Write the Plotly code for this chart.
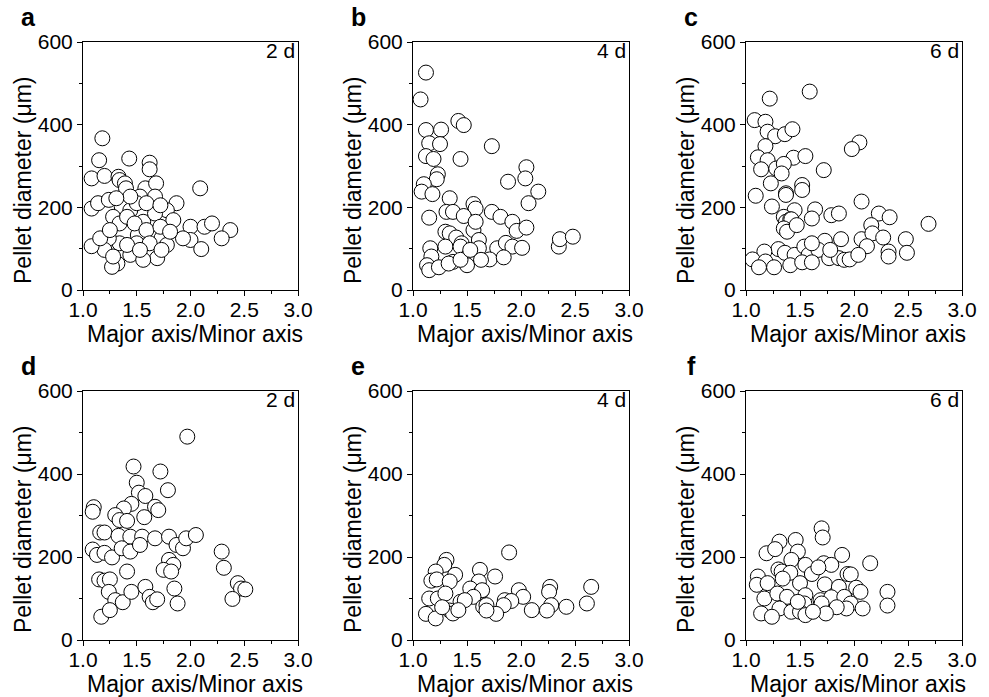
import plotly.graph_objects as go

# ---------------- data ----------------
a_ratio = [1.18, 1.15, 1.43, 1.62, 1.62, 1.08, 1.20, 1.33, 1.34, 1.39, 1.40, 1.58, 1.68, 1.67, 1.53,
           2.09, 1.87, 1.78, 1.08, 1.14, 1.24, 1.36, 1.28, 1.44, 1.56, 1.67, 1.84, 2.00, 2.13, 2.20,
           2.37, 2.29, 2.00, 1.93, 2.10, 1.73, 1.78, 1.51, 1.34, 1.24, 1.20, 1.08, 1.16, 1.44, 1.61,
           1.69, 1.56, 1.32, 1.27, 1.34, 1.41, 1.48, 1.59, 1.72, 1.25, 1.50, 1.62, 1.41, 1.28, 1.53,
           1.81, 1.73, 1.50, 1.59, 1.72, 1.44, 1.31]
a_diam = [367, 314, 318, 308, 292, 270, 276, 274, 266, 258, 246, 246, 258, 226, 226,
          246, 210, 193, 197, 210, 218, 202, 177, 193, 165, 185, 169, 153, 153, 161,
          145, 125, 121, 125, 99, 125, 109, 133, 113, 125, 97, 106, 125, 85, 93,
          77, 73, 64, 56, 161, 177, 161, 145, 153, 145, 113, 113, 109, 81, 97,
          141, 97, 210, 210, 205, 226, 222]

b_ratio = [1.12, 1.07, 1.42, 1.47, 1.12, 1.26, 1.15, 1.25, 1.73, 1.12, 1.19, 1.44, 2.05, 2.04, 1.88,
           1.23, 1.22, 1.10, 1.08, 1.18, 2.16, 2.07, 1.34, 1.56, 1.58, 1.31, 1.37, 1.47, 1.73, 1.81,
           1.92, 1.96, 2.05, 1.15, 1.30, 1.34, 1.40, 1.56, 1.58, 1.45, 1.61, 1.61, 1.16, 1.30, 1.44,
           1.78, 1.86, 1.92, 2.01, 1.17, 1.51, 1.37, 1.50, 1.71, 1.63, 1.84, 1.13, 1.15, 1.24, 1.33,
           1.44, 2.35, 2.36, 2.48, 1.53]
b_diam = [526, 461, 409, 399, 387, 388, 355, 353, 348, 324, 317, 317, 297, 270, 262,
          280, 268, 256, 238, 232, 238, 210, 222, 208, 197, 189, 189, 179, 189, 177,
          165, 143, 151, 175, 141, 137, 127, 145, 165, 113, 121, 101, 101, 105, 105,
          101, 114, 105, 102, 81, 82, 68, 60, 74, 73, 79, 60, 48, 55, 64,
          73, 105, 123, 129, 97]

c_ratio = [1.22, 1.59, 1.08, 1.18, 1.20, 1.27, 1.36, 1.43, 1.18, 2.05, 1.98, 1.11, 1.20, 1.44, 1.55,
           1.14, 1.28, 1.35, 1.33, 1.72, 1.23, 1.52, 1.52, 1.37, 1.37, 1.09, 1.24, 1.45, 1.64, 1.61,
           1.79, 1.86, 2.07, 2.23, 2.33, 2.16, 2.69, 1.35, 1.37, 1.41, 1.42, 1.35, 1.38, 1.47, 1.73,
           1.88, 2.07, 2.17, 2.27, 2.48, 2.12, 2.32, 2.49, 2.32, 1.30, 1.36, 1.45, 1.54, 1.58, 1.67,
           1.17, 1.06, 1.18, 1.12, 1.26, 1.41, 1.52, 1.61, 1.77, 1.86, 1.91, 1.96, 2.04, 1.78, 1.61]
c_diam = [463, 480, 411, 407, 383, 372, 377, 389, 348, 357, 341, 321, 314, 320, 324,
          292, 294, 305, 282, 290, 258, 254, 242, 234, 230, 228, 202, 193, 195, 173,
          181, 185, 214, 185, 176, 157, 160, 177, 165, 171, 171, 149, 141, 157, 119,
          123, 123, 137, 127, 123, 106, 93, 90, 81, 99, 90, 85, 105, 85, 97,
          93, 74, 69, 55, 55, 60, 67, 67, 77, 77, 73, 74, 85, 97, 113]

d_ratio = [1.97, 1.47, 1.72, 1.50, 1.52, 1.58, 1.79, 1.10, 1.09, 1.45, 1.38, 1.67, 1.70, 1.30, 1.34,
           1.41, 1.57, 1.16, 1.20, 1.33, 1.44, 1.55, 1.67, 1.80, 1.87, 1.93, 1.96, 2.05, 1.09, 1.13,
           1.20, 1.27, 1.36, 1.44, 1.53, 1.80, 1.84, 1.75, 1.82, 2.29, 2.31, 1.41, 1.15, 1.20, 1.25,
           1.24, 1.30, 1.37, 1.45, 1.58, 1.62, 1.65, 1.69, 1.85, 1.88, 2.44, 2.47, 2.51, 2.39, 1.17,
           1.25]
d_diam = [490, 418, 406, 379, 355, 347, 361, 320, 309, 328, 317, 321, 313, 301, 289,
          287, 296, 259, 259, 251, 249, 249, 245, 249, 229, 221, 245, 253, 218, 205,
          210, 199, 221, 213, 229, 193, 181, 169, 165, 213, 174, 165, 146, 143, 146,
          116, 96, 91, 116, 128, 104, 91, 98, 124, 88, 137, 124, 122, 99, 56,
          72]

e_ratio = [1.89, 1.31, 1.29, 1.21, 1.39, 1.62, 1.61, 1.76, 1.17, 1.22, 1.34, 1.53, 1.63, 1.64, 1.98,
           2.02, 2.27, 2.26, 2.65, 1.15, 1.23, 1.30, 1.44, 1.56, 1.65, 1.68, 1.85, 1.91, 1.84, 2.28,
           2.42, 2.61, 2.24, 2.10, 1.77, 1.68, 1.12, 1.21, 1.34, 1.37, 1.27, 1.48, 1.42]
e_diam = [211, 193, 181, 165, 157, 169, 141, 153, 143, 146, 141, 124, 116, 120, 120,
          104, 128, 116, 128, 100, 100, 112, 92, 104, 80, 84, 96, 94, 84, 84,
          80, 88, 71, 72, 63, 71, 63, 52, 71, 64, 79, 96, 72]

f_ratio = [1.70, 1.71, 1.31, 1.46, 1.19, 1.27, 1.48, 1.89, 2.15, 1.42, 1.55, 1.72, 1.79, 1.30, 1.33,
           1.41, 1.61, 1.67, 1.94, 1.97, 1.11, 1.34, 1.10, 1.20, 1.50, 1.73, 1.86, 2.02, 2.06, 2.31,
           2.31, 1.17, 1.29, 1.38, 1.55, 1.54, 1.69, 1.79, 1.91, 1.97, 1.93, 2.08, 1.84, 1.70, 1.31,
           1.14, 1.24, 1.42, 1.50, 1.55, 1.74, 1.48, 1.62]
f_diam = [269, 247, 237, 241, 209, 219, 213, 205, 185, 193, 181, 185, 181, 170, 165,
          162, 159, 175, 159, 158, 153, 148, 133, 137, 137, 134, 128, 126, 116, 116,
          83, 100, 112, 104, 108, 88, 96, 103, 104, 88, 76, 76, 79, 88, 76,
          64, 56, 68, 68, 60, 64, 92, 68]

panels = [
    ("a", "2 d", a_ratio, a_diam),
    ("b", "4 d", b_ratio, b_diam),
    ("c", "6 d", c_ratio, c_diam),
    ("d", "2 d", d_ratio, d_diam),
    ("e", "4 d", e_ratio, e_diam),
    ("f", "6 d", f_ratio, f_diam),
]

x_ticks = [1.0, 1.5, 2.0, 2.5, 3.0]
y_ticks = [0, 200, 400, 600]
x_title = "Major axis/Minor axis"
y_title = "Pellet diameter (μm)"

# ---------------- layout geometry ----------------
W, H = 989, 697
col_px = [(83, 298), (413, 629), (746, 962)]
row_px = [(42, 290), (391, 640)]

FONT = "Liberation Sans, Arial, Helvetica, sans-serif"

fig = go.Figure()
layout_axes = {}
annotations = []

for i, (lab, day, xs, ys) in enumerate(panels):
    r, c = divmod(i, 3)
    n = i + 1
    xa = "x" if n == 1 else f"x{n}"
    ya = "y" if n == 1 else f"y{n}"
    fig.add_trace(go.Scatter(
        x=xs, y=ys, mode="markers", xaxis=xa, yaxis=ya, showlegend=False,
        hoverinfo="skip",
        marker=dict(size=15, color="white", line=dict(color="black", width=1)),
    ))
    x0, x1 = col_px[c]
    yt, yb = row_px[r]
    xd = [x0 / W, x1 / W]
    yd = [1 - yb / H, 1 - yt / H]
    common = dict(
        showline=True, linecolor="black", linewidth=1, mirror=True,
        ticks="outside", ticklen=5, tickwidth=1, tickcolor="black",
        showgrid=False, zeroline=False, automargin=False,
        tickfont=dict(family=FONT, size=21, color="black"),
        minor=dict(ticks="outside", ticklen=3, tickwidth=1, tickcolor="black"),
    )
    layout_axes["xaxis" if n == 1 else f"xaxis{n}"] = dict(
        domain=xd, anchor=ya, range=[1.0, 3.0],
        tickvals=x_ticks, ticktext=[f"{v:.1f}" for v in x_ticks],
        minor_dtick=0.25, minor_tick0=1.0, ticklabelstandoff=-4,
        **common,
    )
    layout_axes["yaxis" if n == 1 else f"yaxis{n}"] = dict(
        domain=yd, anchor=xa, range=[0, 600],
        tickvals=y_ticks, minor_dtick=100, minor_tick0=0,
        **common,
    )
    # axis titles
    annotations.append(dict(
        text=x_title, xref="paper", yref="paper",
        x=((x0 + x1) / 2 + 4) / W, y=1 - (yb + 44) / H,
        xanchor="center", yanchor="middle", showarrow=False,
        font=dict(family=FONT, size=23, color="black"),
    ))
    annotations.append(dict(
        text=y_title, xref="paper", yref="paper", textangle=-90,
        x=(x0 - 60) / W, y=1 - (yt + 138) / H,
        xanchor="center", yanchor="middle", showarrow=False,
        font=dict(family=FONT, size=23, color="black"),
    ))
    # day label inside top-right
    annotations.append(dict(
        text=day, xref="paper", yref="paper",
        x=(x1 - 1) / W, y=1 - (yt - 5) / H, xanchor="right", yanchor="top",
        showarrow=False, font=dict(family=FONT, size=21, color="black"),
    ))
    # panel letter
    annotations.append(dict(
        text=f"<b>{lab}</b>", xref="paper", yref="paper",
        x=(x0 - 55) / W, y=1 - (yt - 41) / H,
        xanchor="center", yanchor="top",
        showarrow=False, font=dict(family=FONT, size=25, color="black"),
    ))

fig.update_layout(
    width=W, height=H,
    margin=dict(l=0, r=0, t=0, b=0),
    paper_bgcolor="white", plot_bgcolor="white",
    annotations=annotations,
    **layout_axes,
)

fig.write_html("out.html", config={"displayModeBar": False},
               post_script="document.body.style.margin='0px';")
